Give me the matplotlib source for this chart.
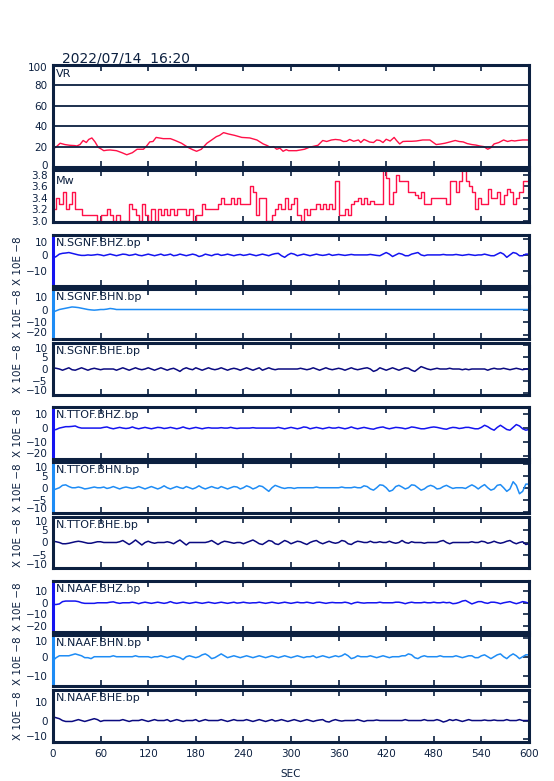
import numpy as np
import matplotlib
matplotlib.use("Agg")
import matplotlib.pyplot as plt
from matplotlib.transforms import ScaledTranslation

# ---------------- data ----------------
title = "2022/07/14  16:20"
xticks = [0, 60, 120, 180, 240, 300, 360, 420, 480, 540, 600]

vr_t = [0, 3, 9, 15, 21, 27, 30, 34, 38, 42, 45, 49, 53, 57, 60, 64, 68, 72, 80, 87,
        93, 100, 106, 114, 118, 122, 126, 130, 139, 148, 154, 162, 170, 176, 181, 187,
        194, 200, 206, 210, 215, 221, 229, 238, 248, 257, 265, 270, 274, 278, 282, 286,
        290, 294, 297, 307, 317, 323, 334, 340, 345, 351, 356, 362, 366, 370, 374, 379,
        385, 388, 392, 395, 399, 404, 408, 412, 416, 420, 425, 430, 433, 437, 441, 446,
        452, 458, 466, 475, 483, 488, 494, 500, 507, 512, 517, 522, 528, 533, 538, 543,
        548, 552, 556, 562, 568, 573, 578, 582, 586, 592, 600]
vr_v = [20, 19, 23.3, 22, 21.3, 21, 20.6, 22, 26, 24, 27, 28.5, 24.6, 19.3, 18, 16, 16.5,
        16.7, 16, 14, 12, 14, 17.4, 17.4, 20.6, 24.6, 25, 29, 27.8, 27.8, 26, 23.3, 19.3,
        17, 15.4, 17.4, 23.3, 26.5, 29.8, 31, 33.7, 32.4, 31, 29, 28.5, 26.5, 22.6, 21,
        19.3, 20, 17.4, 18.5, 15.4, 17, 16, 16, 17.4, 19.3, 21.3, 26, 25, 26.5, 27, 26.5,
        25, 25.2, 27, 25.2, 26.5, 24, 27, 26, 24.5, 24, 26.5, 26, 24, 27.2, 25.5, 29, 26,
        22.6, 25, 25.2, 25.2, 25.5, 26.5, 26.5, 22, 22.5, 23.3, 24.5, 26, 25, 24.6, 23, 22,
        21.5, 20.6, 20, 17.4, 19, 22.6, 24, 26.5, 25, 26, 25.5, 26, 26.5, 26.5]

t_grid = np.arange(0, 601, 4)

mw = [3.2, 3.4, 3.3, 3.5, 3.2, 3.3, 3.5, 3.2, 3.2, 3.1, 3.1, 3.1, 3.1, 3.1, 3.0,
      3.1, 3.1, 3.2, 3.1, 3.0, 3.1, 3.0, 3.0, 3.0, 3.3, 3.2, 3.1, 3.0, 3.3, 3.1,
      3.0, 3.2, 3.0, 3.2, 3.1, 3.2, 3.1, 3.2, 3.1, 3.2, 3.2, 3.2, 3.1, 3.2, 3.0,
      3.1, 3.1, 3.3, 3.2, 3.2, 3.2, 3.2, 3.3, 3.4, 3.3, 3.3, 3.4, 3.3, 3.4, 3.3,
      3.3, 3.3, 3.6, 3.5, 3.1, 3.4, 3.4, 3.0, 3.0, 3.1, 3.2, 3.3, 3.2, 3.4, 3.2,
      3.3, 3.4, 3.1, 3.0, 3.2, 3.1, 3.2, 3.2, 3.3, 3.2, 3.3, 3.2, 3.3, 3.2, 3.7,
      3.1, 3.1, 3.2, 3.1, 3.3, 3.35, 3.4, 3.3, 3.4, 3.3, 3.35, 3.3, 3.3, 3.3, 3.9,
      3.75, 3.3, 3.5, 3.8, 3.7, 3.7, 3.7, 3.5, 3.5, 3.45, 3.4, 3.5, 3.3, 3.3, 3.4,
      3.4, 3.4, 3.4, 3.4, 3.3, 3.7, 3.7, 3.5, 3.7, 3.9, 3.7, 3.6, 3.5, 3.2, 3.4,
      3.3, 3.3, 3.55, 3.4, 3.4, 3.5, 3.3, 3.45, 3.55, 3.5, 3.3, 3.4, 3.5, 3.7, 3.7,
      3.5]

sgnf_bhz = [-2, -1, 0.5, 1, 1.2, 1.5, 1, 0.5, 0, -0.3, -0.3, 0, -0.2, 0, 0.3,
            0, -0.5, 0, 0.5, 0, -0.5, 0, 0.5, 0.3, -0.3, 0, 0.5, -0.2, -0.5, 0,
            0.5, 0, -0.5, 0, 0.5, -0.3, 0, 0.5, -0.5, -0.2, 0.5, 0, -0.5, 0, 0.5,
            0, -1, -0.5, 0.5, 0, -0.5, 0.3, 0.5, -0.3, 0, 0.5, 0, -0.5, 0, 0.3,
            -0.3, 0, 0.5, 0, -0.5, 0, 0.5, 0, -0.5, 0.3, 0.8, 1, -0.5, -1.5, 0,
            1, 0.5, -0.5, 0, 0.5, 0, -0.5, 0, 0.5, 0, -0.3, 0, 0.5, -0.3, 0,
            0.3, 0, -0.3, 0, 0.3, 0, 0, 0, 0, 0, 0.3, 0, -0.3, -0.5, 0.5,
            1.5, 0.5, -1, 0, 1, 0.5, -0.5, -0.5, 0.5, 1, 1.5, 0, -0.5, 0, 0,
            0, 0, 0, 0.3, 0, 0, 0, 0.3, 0, -0.3, 0, 0.3, 0, -0.3, 0,
            0, 0.5, 0, -0.5, -0.5, 0.5, 1.5, 0.5, -1.5, 0, 1.5, 1, -0.5, -0.5, 0.5,
            0.5]
sgnf_bhn = [-2, -1, 0, 0.5, 1, 1.5, 2, 1.8, 1.5, 1, 0.5, 0, -0.3, -0.5, -0.3,
            0, 0, 0.3, 0.8, 0.5, 0, 0, 0, 0, 0, 0, 0, 0, 0, 0,
            0, 0, 0, 0, 0, 0, 0, 0, 0, 0, 0, 0, 0, 0, 0,
            0, 0, 0, 0, 0, 0, 0, 0, 0, 0, 0, 0, 0, 0, 0,
            0, 0, 0, 0, 0, 0, 0, 0, 0, 0, 0, 0, 0, 0, 0,
            0, 0, 0, 0, 0, 0, 0, 0, 0, 0, 0, 0, 0, 0, 0,
            0, 0, 0, 0, 0, 0, 0, 0, 0, 0, 0, 0, 0, 0, 0,
            0, 0, 0, 0, 0, 0, 0, 0, 0, 0, 0, 0, 0, 0, 0,
            0, 0, 0, 0, 0, 0, 0, 0, 0, 0, 0, 0, 0, 0, 0,
            0, 0, 0, 0, 0, 0, 0, 0, 0, 0, 0, 0, 0, 0, 0,
            0]
sgnf_bhe = [0.5, 0.3, 0, -0.5, 0, 0.5, -0.3, -0.5, 0, 0.5, 0, -0.5, 0, 0.3, 0,
            -0.3, 0, 0, 0, 0, -0.5, 0, 0.5, 0, -0.5, 0, 0.5, 0, -0.3, 0,
            0.5, 0, -0.5, 0, 0.5, 0, -0.5, 0, 0.3, -0.3, -1, 0, 0.5, 0, -0.3,
            0.5, 0, -0.5, 0, 0.5, 0, -0.3, 0, 0.5, 0, -0.5, 0, 0.3, 0, -0.5,
            0, 0.5, 0, -0.5, 0, 0.5, -0.5, 0, 0.5, 0, -0.3, 0, 0, 0, 0,
            0, 0, 0, 0.3, 0, -0.3, 0, 0.5, 0, -0.5, 0, 0.5, 0, -0.3, 0,
            0.3, 0, -0.5, 0, 0.5, 0, -0.3, 0, 0.3, 0.5, 0, -1, -0.5, 0.5, 0,
            -0.5, 0, 0.5, 0, -0.5, 0, 0.5, 0.3, -0.5, -1, 0, 1, 0.5, 0, -0.3,
            0, 0.3, 0, 0, 0, 0.3, 0, 0, 0, -0.3, 0, -0.3, 0, 0, 0,
            0, 0, -0.5, 0, 0.3, 0, 0, 0.3, 0, -0.3, 0, 0.3, 0, -0.3, 0,
            0]
ttof_bhz = [-1.5, -1, 0, 0.5, 1, 1, 1.2, 1.5, 0.5, 0, 0, 0, 0, 0, 0,
            0, 0.5, 0.8, 0, -0.5, 0, 0.5, 0, -0.3, 0, 0.8, 0, -0.5, 0, 0.5,
            0, -0.5, 0, 0.5, 0.3, -0.3, 0, 0.5, 0, -0.5, 0, 0.8, 0, -0.5, 0,
            0.5, 0, -0.5, 0, 0.3, 0, 0, 0, 0.3, 0, 0, 0.5, 0, -0.3, 0,
            0, 0, 0, 0.3, 0, 0, 0, 0, 0, 0, 0, 0.5, 0, -0.5, 0,
            0.5, 0, -0.5, 0, 0.8, 0.5, -0.5, 0, 0.5, 0, -0.5, 0, 0.5, 0, 0,
            0.5, 0, -0.5, 0, 0.8, 0, -0.5, 0, 0.5, 0, -0.5, -0.8, 0, 0.5, 0.8,
            0, -0.5, 0, 0.5, 0.3, 0, -0.5, 0, 0.8, 0.5, 0, -0.5, -0.5, 0, 0.5,
            0.8, 0.5, 0, -0.5, -0.8, 0, 0.5, 0.3, -0.3, 0, 0.5, 0.5, 0, -0.5, -0.5,
            0.5, 2, 1, -0.5, -1.5, 0.5, 2, 0.5, -1, -1.5, 0.5, 2.5, 1.5, -0.5, -1.5,
            -1]
ttof_bhn = [-1, -0.5, 0, 1, 1.2, 0.5, 0, 0, 0.3, 0, -0.5, -0.3, 0, 0.3, 0,
            0, 0.3, -0.3, 0, 0.5, 0, -0.5, 0, 0.3, 0, -0.3, 0, 0.5, 0, -0.5,
            0, 0.5, 0, -0.5, 0, 0.8, 0, -0.5, 0, 0.5, 0, -0.3, 0.5, 0, -0.5,
            0, 0.8, 0, -0.5, 0, 0.5, 0, -0.3, 0.5, 0, -0.5, 0, 0.5, 0.3, -0.5,
            0, 0.8, 0.3, -0.5, 0, 0.8, 0.5, -0.5, -1.5, 0, 1, 0.5, 0, -0.3, 0,
            0, -0.3, 0, 0, 0, 0, 0, 0, 0.3, 0, 0, 0, 0, 0, 0,
            0, 0.3, 0, 0, 0, 0.3, 0, 0, 0.8, 0.5, -0.5, -1, 0, 1.2, 1,
            0, -1.5, -1, 0.5, 1, 0.3, -0.5, 0, 1.2, 1, 0, -1, -0.5, 0.5, 1,
            0.5, -0.5, -0.3, 0.5, 1, 0.3, -0.3, 0, 0, 0, -0.3, 0.5, 1.2, 0.5, -0.5,
            0.5, 1.3, 0, -1, -0.5, 1, 1.3, 0, -1.5, -0.5, 2.5, 1, -2.5, -1.5, 1.5,
            1.5]
ttof_bhe = [0.5, 0.3, 0, -0.5, -0.5, -0.3, 0, 0.3, 0.5, 0.3, 0, -0.3, -0.3, 0, 0.3,
            0.3, 0, 0, 0, 0, 0, 0.3, 0.8, 0, -0.8, 0, 1, 0, -1, 0,
            0.5, 0, -0.3, 0, 0, 0, 0.3, 0, -0.5, 0.3, 1, 0, -1, 0, 0,
            0, 0, 0, 0, 0.3, 0.8, 0, -0.8, 0, 0.5, 0.3, 0, -0.3, 0, 0,
            -0.5, 0, 0.5, 1, 0.3, -0.5, -0.8, 0, 0.8, 0.5, -0.5, -0.8, 0, 0.8, 0.3,
            -0.5, 0, 0.5, 0.3, -0.3, -0.8, 0, 0.5, 0.8, 0, -0.5, 0, 0.5, 0, -0.3,
            0, 0.8, 0.5, -0.5, -0.8, 0, 0.5, 0.3, 0, 0, 0.5, 0, 0, 0.3, 0,
            0, 0.5, 0, -0.3, 0, 0.8, 0, -0.3, 0.3, 0, 0, 0, -0.3, 0, 0,
            0, 0, 0.5, 0.8, 0, -0.5, 0, 0, 0, 0, 0, 0, 0.3, 0, 0,
            0.5, 0.3, -0.3, 0, 0.5, 0, -0.3, 0, 0.5, 0.8, 0, -0.5, 0, 0.3, -0.8,
            -0.5]
naaf_bhz = [-1.5, -1.5, -1, 1, 1.5, 1.5, 1.5, 1.5, 1, 0, -0.5, -0.5, -0.5, -0.5, 0,
            0, 0, 0, 0.5, 0.8, 0, -0.5, 0, 0, 0, 0.5, 0, -0.8, 0, 0.5,
            0, -0.5, 0, 0.5, 0, -0.5, 0, 1, 0, -0.5, 0, 0.5, 0, -0.5, 0,
            0.5, 0, -0.5, 0, 0.5, 0, -0.5, 0, 0.5, 0, -0.5, 0, 0.5, -0.3, 0,
            0.5, 0, -0.3, 0, 0, 0.5, 0, -0.5, 0, 0.5, 0, -0.5, 0, 0.5, 0,
            -0.5, 0, 0.5, 0, 0, 0.5, 0, -0.5, 0.3, 0.5, 0, -0.5, 0, 0.3, 0,
            0, 0, 0.5, 0, -1, 0, 0.5, 0, -0.3, 0, 0, 0, 0, 0.5, 0,
            0, 0, 0, 0.5, 0.5, 0, -0.8, 0, 0.5, 0, 0, 0, 0.5, 0, 0,
            0.5, 0, 0, 0.5, 0, 0.3, -0.8, -0.5, 0.3, 1.5, 2, 0.5, -1, 0, 1,
            1, 0, -0.5, 0.5, 0.5, 0, -0.8, 0, 0.5, 1, 0, -0.8, 0, 1, 0.5,
            -0.5]
naaf_bhn = [-2, -0.5, 0.5, 0.5, 0.5, 0.5, 1, 1.5, 1, 0.5, -0.5, -0.5, -1, 0, 0,
            0, 0, 0, 0, 0.5, 0, 0, 0, 0, 0, 0, 0.5, 0, 0, 0,
            0, -0.5, 0, 0, 0.5, 0, -0.5, 0, 0.5, 0, -0.5, -1.5, 0, 0.5, 0,
            -0.5, 0, 1, 1.5, 0.5, -1, -0.5, 0.5, 1.5, 0.5, -0.5, 0, 0.5, 0, -0.5,
            0, 0.5, 0, -0.5, 0, 0.5, 0, -0.5, 0, 0.5, 0, -0.5, 0, 0.5, 0,
            -0.5, 0, 0.5, 0, -0.5, 0, 0, 0.5, -0.5, 0, 0.5, 0, -0.5, 0, 0.5,
            0, 0.5, 1.5, 0.5, -1, -0.5, 0.5, 0, 0, 0, 0.5, 0, -0.5, 0, 0.5,
            0, -0.5, 0, 0, 0, 0.5, 0.5, 1.5, 1, -0.5, -1, 0, 0.5, 0, 0,
            0, 0, 0.5, 0, 0, 0, 0, 0.5, 0, -0.5, 0, 0.5, 0.5, -0.5, -0.5,
            0.5, 1, 0, -1, 0, 1, 1.5, 0, -1, 0.5, 1.5, 0.5, -1, 0, 1,
            1]
naaf_bhe = [2, 1.5, 1, 0, -0.5, -0.5, -0.5, 0, 0.5, 0, -0.5, 0, 0.5, 1, 0.5,
            -0.5, 0, 0, 0, 0, 0, 0, 0.5, 0, -0.5, 0, 0, 0, 0.5, 0,
            -0.5, 0, 0.5, 0, 0, 0, 0.5, -0.5, 0, 0.5, 0, -0.5, 0, 0, 0,
            0.5, -0.5, 0, 0.5, 0, 0, 0, 0, 0.5, 0, -0.5, 0, 0.5, 0, 0,
            0, 0.5, 0, -0.5, 0, 0.5, 0, -0.5, 0, 0.5, -0.3, 0, 0.5, 0, -0.5,
            0, 0.5, 0, -0.5, 0, 0.5, 0, -0.5, 0, 0.3, 0.5, -0.5, -0.8, 0, 0.5,
            0, -0.3, 0, 0, 0, 0, 0.5, 0, -0.5, 0, 0, 0, 0.3, 0, 0,
            0, 0, 0, 0, 0, 0, 0.5, 0, 0, 0, 0, 0, 0.5, 0, 0,
            0, 0.5, 0, -0.8, -0.3, 0.5, 0, 0.5, 0, -0.5, 0, 0.5, 0, 0, 0,
            0, 0.3, 0, 0, 0.3, 0, 0, 0, 0.5, 0, 0, 0, 0.5, 0, 0,
            0]

wave_names = ["N.SGNF.BHZ.bp", "N.SGNF.BHN.bp", "N.SGNF.BHE.bp",
              "N.TTOF.BHZ.bp", "N.TTOF.BHN.bp", "N.TTOF.BHE.bp",
              "N.NAAF.BHZ.bp", "N.NAAF.BHN.bp", "N.NAAF.BHE.bp"]
wave_data = [sgnf_bhz, sgnf_bhn, sgnf_bhe, ttof_bhz, ttof_bhn, ttof_bhe,
             naaf_bhz, naaf_bhn, naaf_bhe]
wave_yticks = [[10, 0, -10], [10, 0, -10, -20], [10, 5, 0, -5, -10],
               [10, 0, -10, -20], [10, 5, 0, -5, -10], [10, 5, 0, -5, -10],
               [10, 0, -10, -20], [10, 0, -10], [10, 0, -10]]
wave_ylim = [(-19.5, 12.5), (-23, 16), (-10.8, 10.8),
             (-22, 15), (-10.5, 10.7), (-10.2, 10.2),
             (-25.5, 19), (-15.5, 11.5), (-11.6, 16.5)]
ylabel_text = "X 10E \u22128"

# ---------------- style ----------------
NAVY = "#0c2040"
RED = "#ff1048"
C_Z = "#1414f0"
C_N = "#1e8cf5"
C_E = "#0a0a80"
wave_colors = [C_Z, C_N, C_E] * 3
spine_colored = [True, True, False, True, True, False, True, True, False]
TICK_FS = 7.5

W, H = 554, 781
fig = plt.figure(figsize=(W / 100, H / 100), dpi=100)
plt.rcParams["font.family"] = ["DejaVu Sans"]

X0, X1 = 53, 529


def add_ax(top, bottom):
    return fig.add_axes([X0 / W, 1 - bottom / H, (X1 - X0) / W, (bottom - top) / H])


def style(ax, bottom_labels=False):
    for s in ax.spines.values():
        s.set_linewidth(2.2)
        s.set_color(NAVY)
    ax.set_xlim(0, 600)
    ax.set_xticks(xticks)
    ax.tick_params(axis="x", direction="in", top=True, bottom=True, length=4,
                   width=1.2, color=NAVY, labelbottom=bottom_labels,
                   labelsize=TICK_FS, labelcolor=NAVY, pad=5)
    ax.tick_params(axis="y", direction="in", left=False, right=True, length=4,
                   width=1.2, color=NAVY, labelleft=True, labelsize=TICK_FS,
                   labelcolor=NAVY, pad=4)


def nudge_edge_labels(ax, pts=2.5):
    """Shift labels sitting on the top / bottom frame slightly inward."""
    lo, hi = ax.get_ylim()
    span = hi - lo
    locs = ax.yaxis.get_majorticklocs()
    ticks = ax.yaxis.get_major_ticks(len(locs))
    for tick, v in zip(ticks, locs):
        lab = tick.label1
        if hi - v < 0.08 * span:
            lab.set_transform(lab.get_transform() + ScaledTranslation(0, -pts / 72, fig.dpi_scale_trans))
        elif v - lo < 0.08 * span:
            lab.set_transform(lab.get_transform() + ScaledTranslation(0, pts / 72, fig.dpi_scale_trans))


def corner_label(ax, txt, dy=-2):
    ax.annotate(txt, xy=(0, 1), xycoords="axes fraction", xytext=(2, dy),
                textcoords="offset points", ha="left", va="top", fontsize=8,
                color=NAVY, zorder=5)


# VR panel
ax = add_ax(65, 167)
style(ax)
ax.plot(vr_t, vr_v, color=RED, lw=1.0)
ax.set_ylim(0, 100)
ax.set_yticks([0, 20, 40, 60, 80, 100])
ax.tick_params(axis="y", right=False)
ax.grid(axis="y", color=NAVY, lw=1.3)
ax.set_axisbelow(False)
corner_label(ax, "VR", dy=-3)
nudge_edge_labels(ax, 1.5)

# Mw panel
ax = add_ax(170, 222)
style(ax)
ax.step(t_grid, mw, where="post", color=RED, lw=1.0)
ax.set_ylim(2.975, 3.89)
ax.set_yticks([3.0, 3.2, 3.4, 3.6, 3.8])
ax.set_yticklabels(["3.0", "3.2", "3.4", "3.6", "3.8"])
corner_label(ax, "Mw", dy=-4)

# waveform panels
tops = [235, 289, 343, 407, 462, 517, 581, 635, 690]
bots = [286, 339, 395, 459, 513, 568, 632, 686, 742]
for i in range(9):
    ax = add_ax(tops[i], bots[i])
    last = i == 8
    style(ax, bottom_labels=last)
    ax.plot(t_grid, wave_data[i], color=wave_colors[i], lw=1.1)
    ax.set_ylim(*wave_ylim[i])
    ax.set_yticks(wave_yticks[i])
    if spine_colored[i]:
        ax.spines["left"].set_color(wave_colors[i])
    corner_label(ax, wave_names[i])
    ax.set_ylabel(ylabel_text, fontsize=TICK_FS, color=NAVY)
    ax.yaxis.set_label_coords(-0.062, 0.5)
    nudge_edge_labels(ax)
    if last:
        ax.set_xlabel("SEC", fontsize=TICK_FS, color=NAVY, labelpad=7)

fig.text(62 / W, 1 - 58 / H, title, fontsize=10, color=NAVY, ha="left", va="center")

fig.savefig("out.png", dpi=100, facecolor="white")
